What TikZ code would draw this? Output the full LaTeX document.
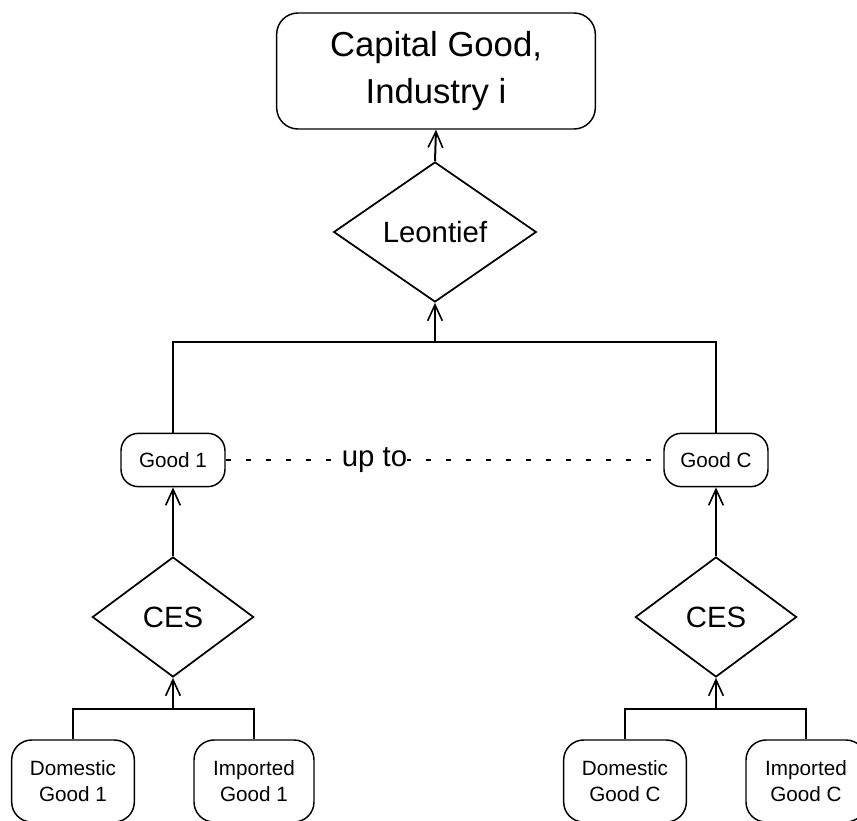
\documentclass[tikz,border=0pt]{standalone}
\usepackage{fontspec}
\setmainfont{Liberation Sans}
\usetikzlibrary{shapes.geometric,arrows.meta}
\tikzset{
    box/.style={draw, line width=1.1pt, rounded corners=13pt, align=center, inner sep=0pt},
    combine/.style={draw, diamond, line width=1.3pt, inner sep=0pt, aspect=1.35,
        font=\fontsize{22}{26}\selectfont},
    link/.style={line width=1.5pt},
    up/.style={link, -{Straight Barb[length=12pt,width=11pt,line width=1.2pt]}},
    small/.style={font=\fontsize{15.5}{20}\selectfont},
}
\begin{document}
\begin{tikzpicture}[x=0.75pt, y=-0.75pt]
    \useasboundingbox (0,0) rectangle (857,821);
    %% top of the tree
    \node[box, rounded corners=16pt, minimum width=239pt, minimum height=87pt,
        font=\fontsize{26}{35}\selectfont] (capital) at (436,71) {Capital Good,\\Industry i};
    \node[combine, minimum width=152pt, minimum height=105pt] (leontief) at (435,232) {Leontief};
    \coordinate (join) at (435,342);
    \draw[up] (leontief.north) -- (capital.south);
    \draw[up] (join) -- (leontief.south);
    %% one branch per good
    \foreach \g/\x/\d/\m in {1/173/73/254, C/716/625/806} {
        \node[box, small, minimum width=78pt, minimum height=40pt] (good\g) at (\x,460) {Good \g};
        \node[combine, minimum width=121pt, minimum height=90pt] (ces\g) at (\x,617) {CES};
        \node[box, small, rounded corners=15pt, minimum width=92pt, minimum height=61.5pt]
            (dom\g) at (\d,781) {Domestic\\Good \g};
        \node[box, small, rounded corners=15pt, minimum width=90pt, minimum height=61.5pt]
            (imp\g) at (\m,781) {Imported\\Good \g};
        \coordinate (split\g) at (\x,709);
        \draw[link] (dom\g.north) |- (split\g) -| (imp\g.north);
        \draw[up] (split\g) -- (ces\g.south);
        \draw[up] (ces\g.north) -- (good\g.south);
        \draw[link] (good\g.north) |- (join);
    }
    %% goods in between
    \draw[line width=1pt, dash pattern=on 4pt off 11pt] (good1.east) -- (goodC.west)
        node[pos=0.34, fill=white, inner sep=0pt, font=\fontsize{22}{26}\selectfont] {up to};
\end{tikzpicture}
\end{document}
